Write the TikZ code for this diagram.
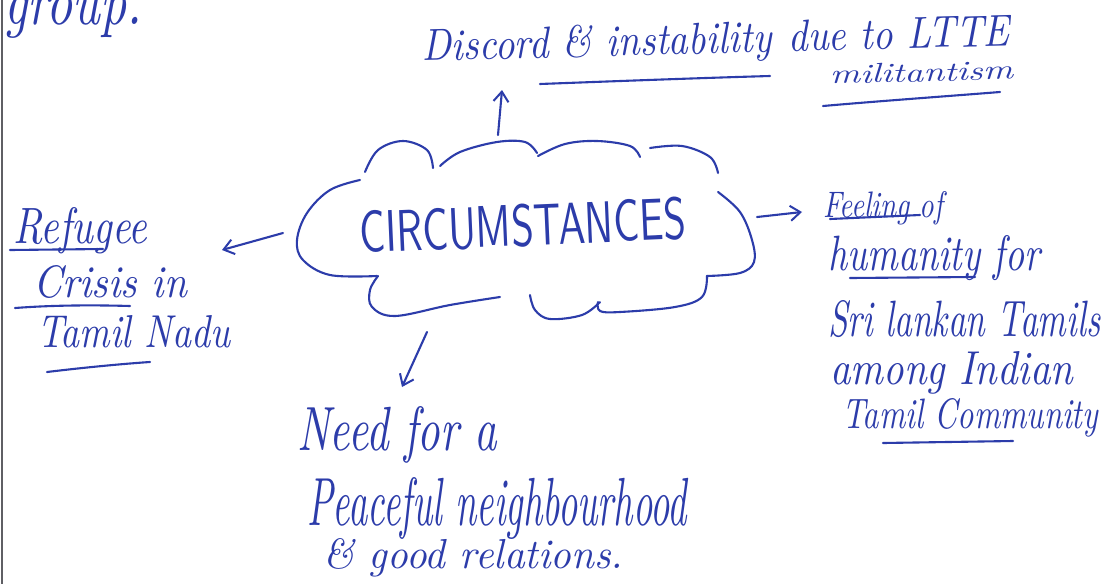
\documentclass[tikz,border=0pt]{standalone}
\usepackage{fontspec}
\usetikzlibrary{arrows.meta}
\definecolor{ink}{RGB}{44,60,170}
\definecolor{pageedge}{RGB}{95,95,100}
% set a line of handwriting to a given width and height
\newcommand{\inkfit}[3]{\resizebox{#1pt}{#2pt}{#3}}
\begin{document}
\begin{tikzpicture}[x=1pt,y=-1pt,
  pen/.style={draw=ink,line width=2.1pt,line cap=round,line join=round},
  hand/.style={text=ink,font=\itshape,inner sep=0pt,anchor=base west},
  tip/.style={-{Straight Barb[length=10pt,width=15pt,line width=2pt]}}]
\useasboundingbox (0,0) rectangle (1103,584);
\fill[white] (0,0) rectangle (1103,584);
\begin{scope}
\clip (0,0) rectangle (1103,584);

% edge of the sheet and the tail of the previous line
\draw[pageedge,line width=1.2pt] (2,0) -- (2,584);
\node[hand] (prev) at (4,24) {\inkfit{138}{30}{group.}};

% central cloud
\node[text=ink,inner sep=0pt,anchor=base west,rotate=2.5,font=\sffamily] (core) at (360,253)
  {\resizebox{327pt}{42pt}{CIRCUMSTANCES}};
\draw[pen] plot[smooth,tension=0.6] coordinates {(360,180) (330,190) (307,213) (297,240) (303,260) (330,275) (377,276)};
\draw[pen] plot[smooth,tension=0.6] coordinates {(365,172) (378,150) (403,141) (427,150) (433,168)};
\draw[pen] plot[smooth,tension=0.6] coordinates {(440,166) (460,152) (497,142) (525,142) (537,153)};
\draw[pen] plot[smooth,tension=0.6] coordinates {(538,156) (565,144) (597,141) (630,146) (640,157)};
\draw[pen] plot[smooth,tension=0.6] coordinates {(650,148) (682,146) (710,157) (718,173)};
\draw[pen] plot[smooth,tension=0.6] coordinates {(718,192) (740,212) (752,240) (754,262) (740,273) (707,276)};
\draw[pen] plot[smooth,tension=0.6] coordinates {(707,276) (702,297) (675,307) (620,312) (600,311) (598,302)};
\draw[pen] plot[smooth,tension=0.6] coordinates {(600,302) (582,315) (550,319) (535,310) (530,295)};
\draw[pen] plot[smooth,tension=0.6] coordinates {(500,297) (450,305) (395,316) (372,307) (370,290) (378,276)};

% top branch
\node[hand,rotate=1.5] (disc) at (422,61) {\inkfit{350}{32}{Discord \& instability}};
\node[hand,rotate=1.5] (ltte) at (788,51.5) {\inkfit{222}{31}{due to LTTE}};
\node[hand,rotate=1.5] (mil) at (830,84) {\inkfit{183}{19}{militantism}};
\draw[pen] (540,84) .. controls (620,81) and (700,78) .. (770,76);
\draw[pen] (823,106) .. controls (880,101) and (950,96) .. (1000,92);

% left branch
\node[hand] (ref) at (13,243) {\inkfit{134}{36}{Refugee}};
\node[hand] (cri) at (33,297) {\inkfit{154}{32}{Crisis in}};
\node[hand] (tam) at (37,347) {\inkfit{193}{32}{Tamil Nadu}};
\draw[pen] (10,250) -- (103,249);
\draw[pen] (15,308) .. controls (55,305) and (95,305) .. (130,306);
\draw[pen] (47,372) .. controls (80,368) and (120,364) .. (150,362);

% right branch
\node[hand] (fee) at (823,217) {\inkfit{120}{26}{Feeling of}};
\node[hand] (hum) at (828,270) {\inkfit{212}{35}{humanity for}};
\node[hand] (sri) at (828,336) {\inkfit{272}{36}{Sri lankan Tamils}};
\node[hand] (amo) at (830,384) {\inkfit{243}{33}{among Indian}};
\node[hand] (com) at (842,428) {\inkfit{256}{30}{Tamil Community}};
\draw[pen] (830,219) -- (920,215);
\draw[pen] (850,278) -- (975,277);
\draw[pen] (883,443) -- (1013,441);

% bottom branch
\node[hand] (nee) at (297,450) {\inkfit{200}{44}{Need for a}};
\node[hand] (pea) at (307,525) {\inkfit{380}{48}{Peaceful neighbourhood}};
\node[hand] (goo) at (323,568) {\inkfit{300}{30}{\& good relations.}};

% arrows out of the cloud
\coordinate (upfrom) at (498,135);
\coordinate (upto) at (502,90);
\coordinate (lfrom) at (283,233);
\coordinate (lto) at (222,250);
\coordinate (rfrom) at (757,217);
\coordinate (rto) at (802,212);
\coordinate (dfrom) at (427,332);
\coordinate (dto) at (402,387);
\draw[pen,tip] (upfrom) -- (upto);
\draw[pen,tip] (lfrom) -- (lto);
\draw[pen,tip] (rfrom) -- (rto);
\draw[pen,tip] (dfrom) -- (dto);
\end{scope}
\end{tikzpicture}
\end{document}
